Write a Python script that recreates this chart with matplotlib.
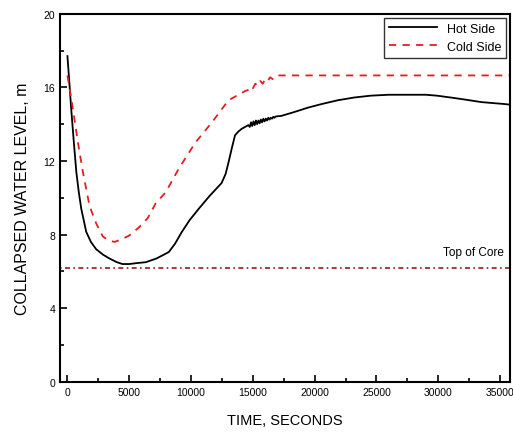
import numpy as np
import matplotlib.pyplot as plt
from matplotlib.ticker import MultipleLocator

# ---- data ----
hot_t = [0, 150, 320, 520, 720, 920, 1120, 1520, 1900, 2330, 2900, 3400, 4000, 4460,
         5000, 5600, 6340, 7200, 8200, 8700, 9260, 9900, 10620, 11500, 12470, 12800,
         13060, 13300, 13560, 13830, 14100, 14370, 14640,
         14750, 14850, 14950, 15050, 15150, 15250, 15350, 15450, 15550, 15650, 15750,
         15850, 15950, 16050, 16150, 16250, 16350, 16450, 16550, 16650, 16750, 16850,
         17300, 18300, 19460, 20600, 21870, 23200, 24530, 26000, 27500, 29000, 29900,
         31000, 32050, 33500, 35280, 36000]
hot_y = [17.7, 16.3, 14.7, 13.0, 11.4, 10.3, 9.4, 8.15, 7.6, 7.2, 6.9, 6.7, 6.5, 6.4,
         6.4, 6.45, 6.5, 6.7, 7.05, 7.5, 8.15, 8.8, 9.4, 10.1, 10.8, 11.3,
         12.0, 12.7, 13.4, 13.6, 13.75, 13.85, 13.95,
         13.85, 14.1, 13.9, 14.15, 13.95, 14.2, 14.0, 14.2, 14.05, 14.25, 14.1,
         14.3, 14.15, 14.3, 14.2, 14.35, 14.25, 14.35, 14.3, 14.4, 14.35, 14.42,
         14.45, 14.65, 14.9, 15.1, 15.3, 15.45, 15.55, 15.6, 15.6, 15.6, 15.55,
         15.45, 15.35, 15.2, 15.1, 15.05]

cold_t = [0, 450, 850, 1250, 1790, 2330, 2860, 3300, 3800, 4400, 5000, 5800, 6500,
          7140, 7950, 9020, 10350, 11690, 13030, 14370,
          14600, 14800, 15000, 15200, 15400, 15600, 15800, 16000, 16200, 16400,
          16600, 16800, 17040, 18000, 22000, 28000, 36000]
cold_y = [16.65, 14.8, 13.0, 11.4, 9.55, 8.6, 7.9, 7.7, 7.6, 7.75, 7.95, 8.4, 8.9,
          9.7, 10.3, 11.6, 13.0, 14.1, 15.3, 15.8,
          15.85, 16.05, 15.95, 16.2, 16.1, 16.35, 16.2, 16.45, 16.35, 16.55,
          16.45, 16.6, 16.65, 16.65, 16.65, 16.65, 16.65]

top_of_core = 6.2

plt.rcParams['font.family'] = ['Liberation Sans', 'DejaVu Sans']

fig = plt.figure(figsize=(5.13, 4.35), dpi=100)
ax = fig.add_axes([0.117, 0.12, 0.877, 0.846])

ax.plot(hot_t, hot_y, color="black", lw=1.3, label="Hot Side")
ax.plot(cold_t, cold_y, color="#e02020", lw=1.3, ls=(0, (4, 3.5)), label="Cold Side")
ax.axhline(top_of_core, color="#a01818", lw=1.2, ls=(0, (1, 2, 3, 2)))
ax.text(35300, top_of_core + 0.55, "Top of Core", ha="right", va="bottom", fontsize=8.5)

ax.set_xlim(-600, 35800)
ax.set_ylim(0, 20)
ax.xaxis.set_major_locator(MultipleLocator(5000))
ax.xaxis.set_minor_locator(MultipleLocator(2500))
ax.yaxis.set_major_locator(MultipleLocator(4))
ax.yaxis.set_minor_locator(MultipleLocator(2))
ax.tick_params(which="both", direction="in", labelsize=7.5, width=1.2)
ax.tick_params(which="major", length=5)
ax.tick_params(which="minor", length=3)
for s in ax.spines.values():
    s.set_linewidth(1.5)

ax.set_xlabel("TIME, SECONDS", fontsize=10.5, labelpad=12)
ax.set_ylabel("COLLAPSED WATER LEVEL, m", fontsize=11.5, labelpad=10)

leg = ax.legend(loc="upper right", fontsize=9, frameon=True, fancybox=False,
                edgecolor="black", handlelength=3.8, borderaxespad=0.3)
leg.get_frame().set_linewidth(1.0)

fig.savefig("out.png", dpi=100)
